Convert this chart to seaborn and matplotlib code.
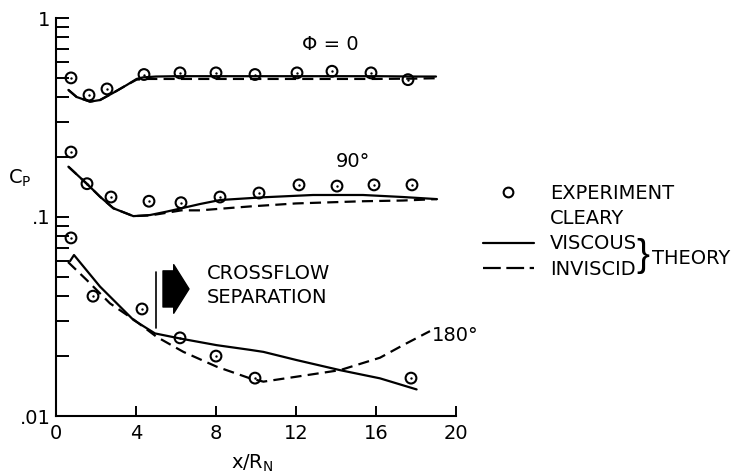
import numpy as np
import pandas as pd
import matplotlib
matplotlib.use("Agg")
import matplotlib.pyplot as plt
import seaborn as sns
from matplotlib.lines import Line2D

# ---------------- data ----------------
# experiment (Cleary), phi = 0, 90, 180 deg
exp0_x = [0.75, 1.65, 2.55, 4.4, 6.2, 8.0, 9.95, 12.05, 13.8, 15.75, 17.6]
exp0_cp = [0.50, 0.41, 0.44, 0.52, 0.53, 0.53, 0.52, 0.53, 0.54, 0.53, 0.49]

exp90_x = [0.75, 1.55, 2.75, 4.65, 6.25, 8.2, 10.15, 12.15, 14.05, 15.9, 17.8]
exp90_cp = [0.212, 0.147, 0.126, 0.120, 0.118, 0.126, 0.132, 0.145, 0.143, 0.145, 0.145]

exp180_x = [0.75, 1.85, 4.3, 6.2, 8.0, 9.95, 17.75]
exp180_cp = [0.0785, 0.040, 0.0345, 0.0247, 0.020, 0.0155, 0.0155]

# viscous theory (solid)
visc0_x = [0.62, 1.03, 1.7, 2.2, 2.85, 3.53, 4.03, 4.35, 5.0, 6.0, 8.0, 10.0, 12.0, 14.0, 16.0, 18.0, 19.0]
visc0_cp = [0.435, 0.401, 0.380, 0.387, 0.420, 0.460, 0.494, 0.503, 0.508, 0.510, 0.510, 0.510, 0.510, 0.510, 0.510, 0.508, 0.508]

visc90_x = [0.62, 1.57, 2.2, 2.87, 3.87, 4.7, 5.53, 6.27, 7.2, 8.2, 10.35, 12.85, 15.35, 17.35, 19.05]
visc90_cp = [0.179, 0.146, 0.1265, 0.1106, 0.101, 0.1023, 0.1064, 0.1106, 0.1162, 0.1217, 0.1256, 0.129, 0.129, 0.126, 0.123]

visc180_x = [0.7, 0.9, 2.2, 3.87, 4.95, 6.22, 8.03, 9.7, 10.37, 12.03, 14.2, 16.2, 18.03]
visc180_cp = [0.060, 0.0644, 0.0447, 0.0304, 0.0260, 0.0245, 0.0227, 0.0215, 0.0210, 0.0191, 0.0170, 0.01546, 0.0136]

# inviscid theory (dashed)
invis0_x = [0.62, 1.03, 1.7, 2.2, 2.85, 3.53, 4.03, 4.5, 5.0, 6.0, 8.0, 10.0, 12.0, 14.0, 16.0, 18.0, 19.0]
invis0_cp = [0.435, 0.401, 0.380, 0.387, 0.420, 0.460, 0.490, 0.494, 0.494, 0.494, 0.494, 0.494, 0.494, 0.494, 0.494, 0.496, 0.498]

invis90_x = [0.62, 1.57, 2.2, 2.87, 3.87, 4.7, 5.53, 6.27, 7.2, 8.7, 9.7, 12.0, 15.35, 17.35, 19.05]
invis90_cp = [0.179, 0.146, 0.1265, 0.1106, 0.101, 0.1018, 0.105, 0.108, 0.108, 0.111, 0.113, 0.117, 0.120, 0.121, 0.123]

invis180_x = [0.6, 1.53, 2.7, 3.87, 5.03, 6.37, 8.03, 9.7, 10.37, 12.03, 14.2, 16.2, 17.37, 18.7]
invis180_cp = [0.0594, 0.0483, 0.0368, 0.0306, 0.0250, 0.0210, 0.0177, 0.01546, 0.01488, 0.01576, 0.0170, 0.01963, 0.02275, 0.0267]

# crossflow separation marker
sep_x = [5.0, 5.0]
sep_cp = [0.0277, 0.0529]

x_ticks = [0, 4, 8, 12, 16, 20]
y_ticks = [0.01, 0.1, 1]
y_ticklabels = [".01", ".1", "1"]
legend_labels = ["EXPERIMENT", "CLEARY", "VISCOUS", "INVISCID"]

# ---------------- style ----------------
sns.set_theme(style="ticks")
plt.rcParams['font.family'] = ['DejaVu Sans']
plt.rcParams['mathtext.fontset'] = 'dejavusans'
plt.rcParams['text.color'] = 'black'
plt.rcParams['axes.labelcolor'] = 'black'
plt.rcParams['xtick.color'] = 'black'
plt.rcParams['ytick.color'] = 'black'

W, H = 735, 474
fig = plt.figure(figsize=(W / 100, H / 100), dpi=100)
ax = fig.add_axes([56 / W, 1 - 416 / H, 400 / W, 398 / H])

LW = 1.6
DASH = (0, (5, 2.8))

for xs, ys in [(visc0_x, visc0_cp), (visc90_x, visc90_cp), (visc180_x, visc180_cp)]:
    sns.lineplot(x=xs, y=ys, ax=ax, color="black", lw=LW, sort=False, estimator=None)
for xs, ys in [(invis0_x, invis0_cp), (invis90_x, invis90_cp), (invis180_x, invis180_cp)]:
    sns.lineplot(x=xs, y=ys, ax=ax, color="black", lw=LW, sort=False, estimator=None,
                 linestyle=DASH)

for xs, ys in [(exp0_x, exp0_cp), (exp90_x, exp90_cp), (exp180_x, exp180_cp)]:
    sns.scatterplot(x=xs, y=ys, ax=ax, marker="o", s=60, facecolor="none",
                    edgecolor="black", linewidth=1.5, zorder=5)
    sns.scatterplot(x=xs, y=ys, ax=ax, marker="o", s=3, color="black",
                    edgecolor="black", linewidth=0, zorder=6)

ax.set_yscale("log")
ax.set_xlim(0, 20)
ax.set_ylim(0.01, 1)

ax.set_xticks(x_ticks)
ax.set_xticklabels([str(t) for t in x_ticks])
ax.set_yticks(y_ticks)
ax.set_yticklabels(y_ticklabels)
ax.yaxis.set_minor_locator(matplotlib.ticker.LogLocator(base=10, subs=np.arange(2, 10)))
ax.yaxis.set_minor_formatter(matplotlib.ticker.NullFormatter())

ax.tick_params(axis="y", which="both", direction="in", length=9, width=1.4,
               labelsize=14, pad=4, color="black", labelcolor="black")
ax.tick_params(axis="x", which="major", direction="in", length=7, width=1.4,
               labelsize=14, pad=6, color="black", labelcolor="black")
ax.tick_params(axis="x", which="minor", length=0)

for s in ["top", "right"]:
    ax.spines[s].set_visible(False)
for s in ["left", "bottom"]:
    ax.spines[s].set_linewidth(1.5)
    ax.spines[s].set_color("black")

ax.set_ylabel(r"C$_\mathregular{P}$", rotation=0, fontsize=14, va="center", ha="center")
ax.yaxis.set_label_coords((20 - 56) / 400, (416 - 178) / 398)
ax.set_xlabel(r"x/R$_\mathregular{N}$", fontsize=14, va="center")
ax.xaxis.set_label_coords(0.49, (416 - 463) / 398)

# annotations
ax.text(13.7, 0.74, "Φ = 0", ha="center", va="center", fontsize=14)
ax.text(14.85, 0.191, "90°", ha="center", va="center", fontsize=14)
ax.text(18.8, 0.0253, "180°", ha="left", va="center", fontsize=14)
ax.text(7.55, 0.0523, "CROSSFLOW", ha="left", va="center", fontsize=14)
ax.text(7.55, 0.0392, "SEPARATION", ha="left", va="center", fontsize=14)
sns.lineplot(x=sep_x, y=sep_cp, ax=ax, color="black", lw=1.2, sort=False, estimator=None)
ax.annotate("", xy=(6.65, 0.0435), xytext=(5.35, 0.0435),
            arrowprops=dict(arrowstyle="simple,head_length=0.55,head_width=1.75,tail_width=1.3",
                            fc="black", ec="black", shrinkA=0, shrinkB=0, mutation_scale=20))

# legend
handles = [
    Line2D([], [], marker="o", ls="none", mfc="none", mec="black", ms=7, mew=1.5),
    Line2D([], [], ls="none"),
    Line2D([], [], color="black", lw=LW),
    Line2D([], [], color="black", lw=LW, ls=(0, (8, 2.5))),
]
ax.legend(handles=handles, labels=legend_labels, loc="upper left",
          bbox_to_anchor=(483 / W, 1 - 184 / H), bbox_transform=fig.transFigure,
          frameon=False, fontsize=14, handlelength=2.6, handletextpad=0.85,
          labelspacing=0.32, borderpad=0, borderaxespad=0)
fig.text(643 / W, 1 - 256 / H, "}", fontsize=28, ha="center", va="center",
         family=["Liberation Sans", "DejaVu Sans"])
fig.text(652 / W, 1 - 258 / H, "THEORY", fontsize=14, ha="left", va="center")

fig.savefig("out.png", dpi=100, facecolor="white")
